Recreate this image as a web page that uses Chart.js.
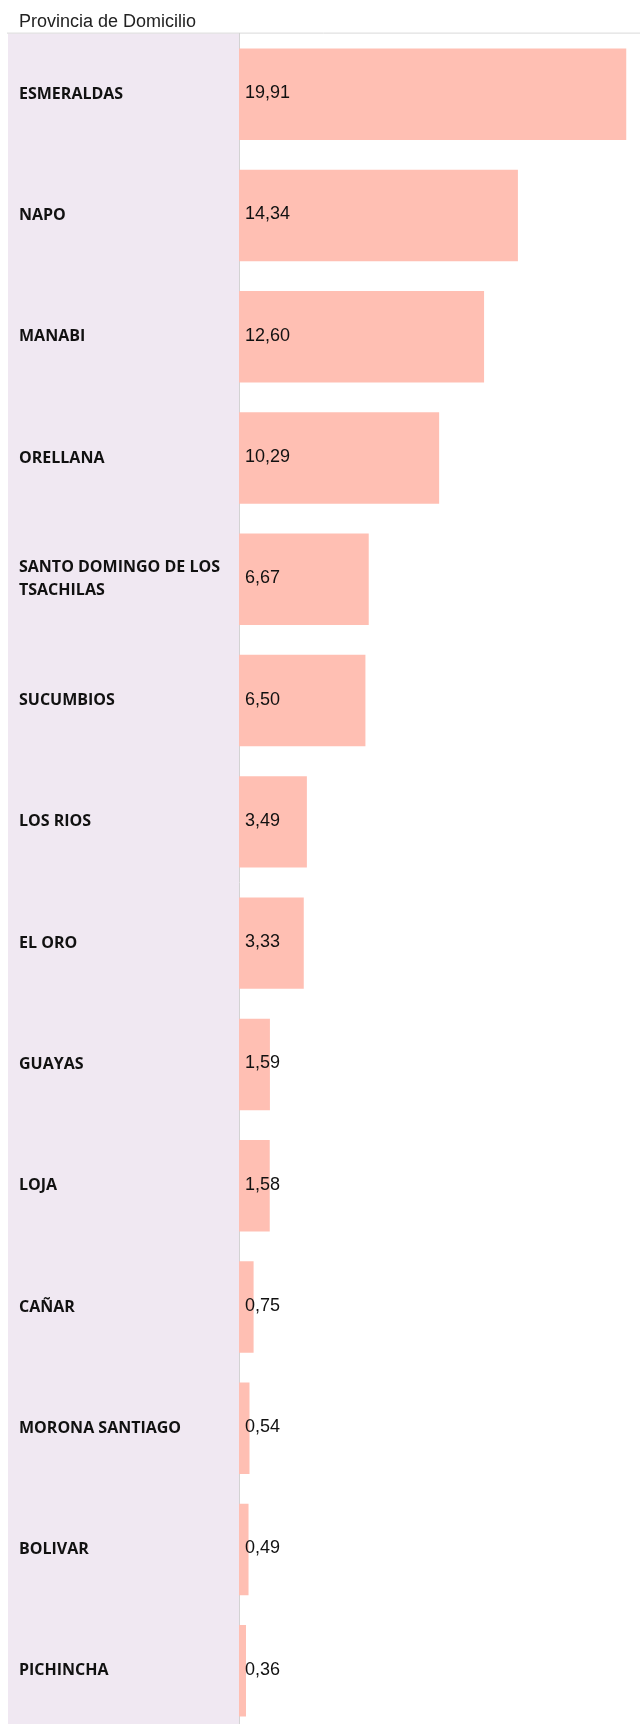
<!DOCTYPE html>
<html>
<head>
<meta charset="utf-8">
<script src="https://cdn.jsdelivr.net/npm/chart.js@4/dist/chart.umd.min.js"></script>
<style>
  html, body { margin: 0; padding: 0; background: #fff; overflow: hidden; }
</style>
</head>
<body>
<canvas id="miGrafico" width="640" height="1746"></canvas>
<script>
let provincias = [
    'ESMERALDAS', 'NAPO', 'MANABI', 'ORELLANA',
    ['SANTO DOMINGO DE LOS', 'TSACHILAS'],
    'SUCUMBIOS', 'LOS RIOS', 'EL ORO', 'GUAYAS', 'LOJA',
    'CAÑAR', 'MORONA SANTIAGO', 'BOLIVAR', 'PICHINCHA'
];
let valores = [19.91, 14.34, 12.60, 10.29, 6.67, 6.50, 3.49, 3.33, 1.59, 1.58, 0.75, 0.54, 0.49, 0.36];
let titulo = 'Provincia de Domicilio';

// fondo de la columna de etiquetas y linea superior
let fondoEtiquetas = {
    id: 'fondoEtiquetas',
    beforeDraw: (chart) => {
        let ctx = chart.ctx;
        let area = chart.chartArea;
        ctx.save();
        ctx.fillStyle = '#f0e8f2';
        ctx.fillRect(8, area.top, area.left - 8, chart.height - area.top);
        ctx.strokeStyle = '#d9d9d9';
        ctx.lineWidth = 1;
        ctx.beginPath();
        ctx.moveTo(7, area.top - 0.5);
        ctx.lineTo(chart.width, area.top - 0.5);
        ctx.stroke();
        ctx.restore();
    }
};

// valores dentro de la barra, con coma decimal
let etiquetasValor = {
    id: 'etiquetasValor',
    afterDatasetsDraw: (chart) => {
        let ctx = chart.ctx;
        let meta = chart.getDatasetMeta(0);
        ctx.save();
        ctx.font = '18px "Liberation Sans", Arial, sans-serif';
        ctx.fillStyle = '#111';
        ctx.textAlign = 'left';
        ctx.textBaseline = 'middle';
        meta.data.forEach((barra, i) => {
            let texto = valores[i].toFixed(2).replace('.', ',');
            ctx.fillText(texto, barra.base + 6, barra.y - 1);
        });
        ctx.restore();
    }
};

let ctx = document.getElementById('miGrafico').getContext('2d');
let myChart = new Chart(ctx, {
    type: 'bar',
    data: {
        labels: provincias,
        datasets: [{
            data: valores,
            backgroundColor: '#ffbfb3',
            borderWidth: 0,
            categoryPercentage: 0.754,
            barPercentage: 1
        }]
    },
    options: {
        indexAxis: 'y',
        responsive: false,
        animation: false,
        devicePixelRatio: 1,
        layout: {
            padding: { left: 19, right: 12, top: 0, bottom: 0 }
        },
        scales: {
            x: {
                display: false,
                min: 0,
                max: 20
            },
            y: {
                afterFit: (scale) => { scale.width = 220; },
                grid: { display: false },
                border: { display: true, color: '#d3d3d3', width: 1 },
                ticks: {
                    autoSkip: false,
                    crossAlign: 'far',
                    color: '#111',
                    font: { family: '"Open Sans", sans-serif', size: 16, weight: 'bold', lineHeight: 1.45 }
                }
            }
        },
        plugins: {
            legend: { display: false },
            tooltip: { enabled: false },
            title: {
                display: true,
                text: titulo,
                align: 'start',
                color: '#222',
                font: { family: '"Liberation Sans", Arial, sans-serif', size: 18, weight: 'normal', lineHeight: 1.2 },
                padding: { top: 11, bottom: 1 }
            }
        }
    },
    plugins: [fondoEtiquetas, etiquetasValor]
});
</script>
</body>
</html>
